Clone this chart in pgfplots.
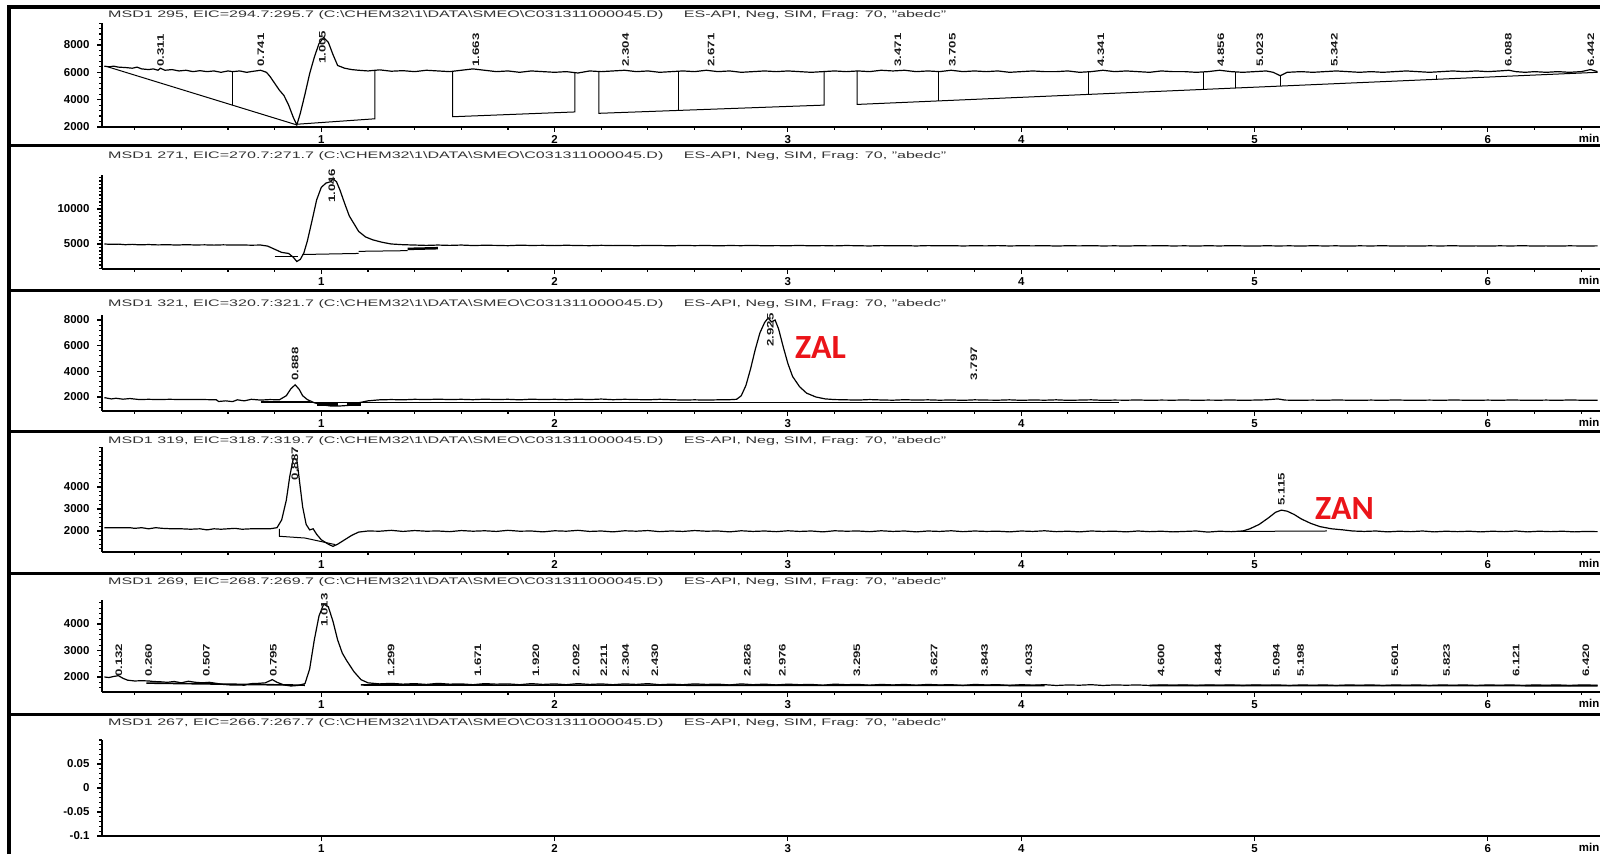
\documentclass[border=0pt]{standalone}
\usepackage{pgfplots}
\pgfplotsset{compat=1.18}
\usepackage{fontspec}
\usepackage{graphicx}
\setmainfont{Liberation Sans}
\newfontfamily\zfont{Carlito}
\definecolor{zred}{RGB}{235,20,25}
\newcommand\tkfont{\fontsize{11.5}{11.5}\selectfont\bfseries}
\newcommand\pkfont{\fontsize{9.5}{9.5}\selectfont\bfseries}
\newcommand\pk[3]{\node[rotate=90,anchor=west,inner sep=0,font=\pkfont,text=black!90] at (axis cs:#1,#2) {\scalebox{1.4}[1]{#3}};}
\newcommand\ttl[3]{\node[anchor=west,inner sep=0,text=black!80] at (108bp,#1) {\resizebox{838bp}{\height}{\fontsize{9.5}{9.5}\selectfont MSD1 #2, EIC=#3 (C:\textbackslash CHEM32\textbackslash 1\textbackslash DATA\textbackslash SMEO\textbackslash C031311000045.D)\quad\ ES-API, Neg, SIM, Frag: 70, "abedc"}};}
\pgfplotsset{
  chrom/.style={
    scale only axis, width=1498bp, anchor=south west,
    xmin=0.06, xmax=6.481,
    axis x line*=bottom, axis y line*=left,
    axis line style={line width=1.6bp,-},
    tick align=outside,
    major tick length=5bp, minor tick length=3bp,
    tick style={line width=1.1bp,black},
    xtick={1,2,3,4,5,6}, xticklabels={1,2,3,4,5,6},
    minor xtick={0.2,0.4,0.6,0.8,1.2,1.4,1.6,1.8,2.2,2.4,2.6,2.8,3.2,3.4,3.6,3.8,4.2,4.4,4.6,4.8,5.2,5.4,5.6,5.8,6.2,6.4},
    tick label style={font=\tkfont},
    yticklabel style={xshift=-4bp},
    scaled y ticks=false,
    clip=false,
  },
  sig/.style={black, line width=1.2bp, mark=none},
  base/.style={black, line width=1bp, mark=none},
}
\begin{document}
\begin{tikzpicture}[x=1bp,y=1bp]
\useasboundingbox (0,0) rectangle (1600,854);
% frame
\draw[line width=3.5bp] (9,0) -- (9,847) -- (1600,847);
\foreach \yy in {708,563,422,280,139}{\draw[line width=3bp] (9,\yy) -- (1600,\yy);}
% titles
\ttl{839bp}{295}{294.7:295.7}
\ttl{698bp}{271}{270.7:271.7}
\ttl{550bp}{321}{320.7:321.7}
\ttl{413bp}{319}{318.7:319.7}
\ttl{272bp}{269}{268.7:269.7}
\ttl{131bp}{267}{266.7:267.7}

% ---------------- Panel 1
\begin{axis}[chrom, at={(102bp,727bp)}, height=104bp,
  ymin=2000, ymax=9610, ytick={2000,4000,6000,8000}, yticklabels={2000,4000,6000,8000},
  minor ytick={2400,2800,3200,3600,4400,4800,5200,5600,6400,6800,7200,7600,8400,8800,9200,9600}]
\addplot[sig] coordinates {(0.07,6450)(0.09,6400)(0.11,6450)(0.13,6380)(0.16,6350)(0.19,6300)(0.21,6380)(0.23,6250)(0.26,6200)(0.28,6250)(0.30,6150)(0.31,6300)(0.33,6150)(0.36,6200)(0.39,6100)(0.42,6150)(0.45,6050)(0.48,6120)(0.51,6050)(0.54,6100)(0.57,6000)(0.60,6100)(0.62,6050)(0.65,6100)(0.68,6000)(0.71,6080)(0.74,6150)(0.765,6000)(0.78,5700)(0.80,5200)(0.82,4700)(0.84,4300)(0.86,3600)(0.88,2700)(0.895,2150)(0.91,3000)(0.93,4400)(0.95,5900)(0.97,7100)(0.99,8100)(1.01,8550)(1.03,8200)(1.05,7300)(1.07,6500)(1.10,6300)(1.13,6200)
(1.16,6150)(1.20,6100)(1.25,6180)(1.30,6080)(1.35,6120)(1.40,6050)(1.45,6150)(1.50,6100)(1.55,6050)(1.60,6150)(1.65,6250)(1.70,6150)(1.75,6050)(1.80,6100)(1.85,6000)(1.90,6100)(1.95,6050)(2.00,6000)(2.05,6050)(2.10,5950)(2.15,6100)(2.20,6050)(2.25,6100)(2.30,6150)(2.35,6050)(2.40,6100)(2.45,6000)(2.50,6050)(2.55,6100)(2.60,6050)(2.65,6150)(2.70,6050)(2.75,6100)(2.80,6000)(2.85,6050)(2.90,6100)(2.95,6050)(3.00,6100)(3.05,6050)(3.10,6000)(3.15,6050)(3.20,6100)(3.25,6050)(3.30,6100)(3.35,6050)(3.40,6150)(3.45,6100)(3.50,6150)(3.55,6050)(3.60,6100)(3.65,6050)(3.70,6150)(3.75,6050)(3.80,6100)(3.85,6050)(3.90,6100)(3.95,6000)(4.00,6050)(4.05,6100)(4.10,6050)(4.15,6050)(4.20,6100)(4.25,6000)(4.30,6050)(4.35,6150)(4.40,6050)(4.45,6100)(4.50,6050)(4.55,6000)(4.60,6100)(4.65,6050)(4.70,6050)(4.75,6000)(4.80,6050)(4.85,6150)(4.90,6050)(4.95,6000)(5.00,6050)(5.05,6100)(5.08,6000)(5.11,5750)(5.14,6000)(5.20,6050)(5.25,6000)(5.30,6050)(5.35,6100)(5.40,6050)(5.45,6000)(5.50,6050)(5.55,6000)(5.60,6050)(5.65,6100)(5.70,6050)(5.75,6000)(5.80,6050)(5.85,6100)(5.90,6050)(5.95,6100)(6.00,6050)(6.05,6100)(6.09,6150)(6.12,6050)(6.16,6000)(6.20,6050)(6.25,6000)(6.30,6050)(6.35,6000)(6.40,6050)(6.44,6200)(6.47,6050)};
\addplot[base] coordinates {(0.085,6400)(0.895,2150)};
\addplot[base] coordinates {(0.62,3590)(0.62,6070)};
\addplot[base] coordinates {(0.895,2200)(1.23,2600)(1.23,6150)};
\addplot[base] coordinates {(1.563,6080)(1.563,2750)(2.087,3100)(2.087,6000)};
\addplot[base] coordinates {(2.19,6080)(2.19,3000)(3.155,3600)(3.155,6050)};
\addplot[base] coordinates {(2.53,3210)(2.53,6080)};
\addplot[base] coordinates {(3.297,6100)(3.297,3650)(6.47,6000)};
\addplot[base] coordinates {(3.646,3908)(3.646,6080)};
\addplot[base] coordinates {(4.29,4385)(4.29,6050)};
\addplot[base] coordinates {(4.78,4748)(4.78,6030)};
\addplot[base] coordinates {(4.92,4852)(4.92,6000)};
\addplot[base] coordinates {(5.11,4993)(5.11,5700)};
\addplot[base] coordinates {(5.78,5489)(5.78,5800)};
\pk{0.311}{6400}{0.311}\pk{0.741}{6400}{0.741}\pk{1.005}{6600}{1.005}\pk{1.663}{6400}{1.663}
\pk{2.304}{6400}{2.304}\pk{2.671}{6400}{2.671}\pk{3.471}{6400}{3.471}\pk{3.705}{6400}{3.705}
\pk{4.341}{6400}{4.341}\pk{4.856}{6400}{4.856}\pk{5.023}{6400}{5.023}\pk{5.342}{6400}{5.342}
\pk{6.088}{6400}{6.088}\pk{6.442}{6400}{6.442}
\node[anchor=north west,inner sep=0,font=\tkfont,yshift=-7bp] at (rel axis cs:0.9858,0) {min};
\end{axis}

% ---------------- Panel 2
\begin{axis}[chrom, at={(102bp,585bp)}, height=94bp,
  ymin=1430, ymax=14860, ytick={5000,10000}, yticklabels={5000,10000},
  minor ytick={1500,2000,2500,3000,3500,4000,4500,5500,6000,6500,7000,7500,8000,8500,9000,9500,10500,11000,11500,12000,12500,13000,13500,14000,14500}]
\addplot[sig] coordinates {(0.07,5000)(0.10,4950)(0.13,4980)(0.16,4900)(0.19,4950)(0.22,4880)(0.26,4920)(0.30,4870)(0.34,4900)(0.38,4850)(0.42,4900)(0.46,4860)(0.50,4880)(0.54,4840)(0.58,4880)(0.62,4850)(0.66,4860)(0.70,4830)(0.74,4850)(0.77,4700)(0.80,4250)(0.83,3800)(0.86,3650)(0.88,3100)(0.895,2500)(0.91,2800)(0.925,3700)(0.94,5400)(0.96,8300)(0.98,11300)(1.00,13100)(1.02,13700)(1.04,13900)(1.05,14300)(1.065,13900)(1.08,12700)(1.10,10800)(1.12,9000)(1.14,7900)(1.16,6800)(1.19,6000)(1.22,5600)(1.26,5250)(1.30,5000)(1.35,4900)(1.40,4850)(1.45,4800)(1.50,4850)
(1.55,4800)(1.60,4850)(1.65,4780)(1.70,4820)(1.75,4800)(1.80,4760)(1.85,4830)(1.90,4790)(1.95,4810)(2.00,4770)(2.05,4820)(2.10,4780)(2.15,4760)(2.20,4810)(2.25,4770)(2.30,4800)(2.35,4750)(2.40,4800)(2.45,4780)(2.50,4740)(2.55,4800)(2.60,4760)(2.65,4790)(2.70,4740)(2.75,4780)(2.80,4760)(2.85,4800)(2.90,4740)(2.95,4770)(3.00,4750)(3.05,4790)(3.10,4740)(3.15,4770)(3.20,4730)(3.25,4780)(3.30,4750)(3.35,4720)(3.40,4770)(3.45,4740)(3.50,4760)(3.55,4720)(3.60,4770)(3.65,4740)(3.70,4760)(3.75,4720)(3.80,4750)(3.85,4730)(3.90,4770)(3.95,4720)(4.00,4750)(4.05,4730)(4.10,4760)(4.15,4710)(4.20,4750)(4.25,4730)(4.30,4760)(4.35,4720)(4.40,4740)(4.45,4710)(4.50,4750)(4.55,4730)(4.60,4760)(4.65,4720)(4.70,4740)(4.75,4710)(4.80,4750)(4.85,4720)(4.90,4760)(4.95,4730)(5.00,4700)(5.05,4750)(5.10,4720)(5.15,4740)(5.20,4710)(5.25,4750)(5.30,4720)(5.35,4740)(5.40,4700)(5.45,4740)(5.50,4720)(5.55,4750)(5.60,4710)(5.65,4730)(5.70,4700)(5.75,4740)(5.80,4720)(5.85,4750)(5.90,4710)(5.95,4730)(6.00,4700)(6.05,4740)(6.10,4720)(6.15,4750)(6.20,4710)(6.25,4730)(6.30,4700)(6.35,4740)(6.40,4720)(6.47,4730)};
\addplot[base] coordinates {(0.80,3150)(0.90,3150)};
\addplot[base] coordinates {(0.92,3500)(1.16,3650)};
\addplot[base] coordinates {(1.16,3950)(1.37,4050)};
\addplot[base, line width=2.5bp] coordinates {(1.37,4300)(1.50,4400)};
\pk{1.045}{10900}{1.046}
\node[anchor=north west,inner sep=0,font=\tkfont,yshift=-7bp] at (rel axis cs:0.9858,0) {min};
\end{axis}

% ---------------- Panel 3
\begin{axis}[chrom, at={(102bp,443bp)}, height=96bp,
  ymin=910, ymax=8390, ytick={2000,4000,6000,8000}, yticklabels={2000,4000,6000,8000},
  minor ytick={1200,1600,2400,2800,3200,3600,4400,4800,5200,5600,6400,6800,7200,7600,8400}]
\addplot[sig] coordinates {(0.07,1950)(0.10,1850)(0.12,1900)(0.15,1830)(0.18,1880)(0.22,1800)(0.26,1820)(0.30,1800)(0.35,1820)(0.40,1800)(0.45,1800)(0.50,1800)(0.55,1780)(0.56,1650)(0.59,1700)(0.62,1640)(0.64,1780)(0.67,1700)(0.70,1820)(0.74,1760)(0.78,1800)(0.82,1780)(0.85,2100)(0.87,2650)(0.888,2950)(0.905,2600)(0.92,2100)(0.94,1800)(0.97,1550)(1.00,1400)(1.04,1300)(1.08,1300)(1.12,1350)(1.16,1550)(1.20,1700)(1.25,1780)(1.30,1800)(1.35,1780)(1.40,1820)(1.45,1800)(1.50,1830)(1.55,1800)(1.60,1820)(1.65,1790)(1.70,1830)(1.75,1800)(1.80,1820)(1.85,1780)(1.90,1830)(1.95,1800)(2.00,1820)(2.05,1790)(2.10,1830)(2.15,1800)(2.20,1840)(2.25,1790)(2.30,1820)(2.35,1800)(2.40,1780)(2.45,1820)(2.50,1790)(2.55,1760)(2.60,1780)(2.65,1760)(2.70,1780)(2.75,1790)(2.78,1820)(2.80,2100)(2.82,2900)(2.84,4200)(2.86,5700)(2.88,7000)(2.90,7800)(2.915,8150)(2.93,7850)(2.945,8000)(2.96,7300)(2.98,5900)(3.00,4600)(3.02,3600)(3.05,2800)(3.08,2300)(3.12,2000)(3.16,1850)(3.20,1800)(3.25,1780)(3.30,1760)(3.35,1800)(3.40,1770)(3.45,1750)(3.50,1790)(3.55,1760)(3.60,1780)(3.65,1750)(3.70,1770)(3.75,1740)(3.80,1780)(3.85,1760)(3.90,1750)(3.95,1780)(4.00,1740)(4.05,1770)(4.10,1750)(4.15,1780)(4.20,1740)(4.25,1760)(4.30,1780)(4.35,1740)(4.40,1760)(4.45,1750)(4.50,1770)(4.55,1740)(4.60,1760)(4.65,1750)(4.70,1770)(4.75,1740)(4.80,1760)(4.85,1750)(4.90,1770)(4.95,1740)(5.00,1760)(5.05,1780)(5.10,1850)(5.13,1760)(5.18,1740)(5.25,1760)(5.30,1740)(5.35,1770)(5.40,1750)(5.45,1740)(5.50,1760)(5.55,1740)(5.60,1770)(5.65,1750)(5.70,1740)(5.75,1760)(5.80,1740)(5.85,1770)(5.90,1750)(5.95,1740)(6.00,1760)(6.05,1740)(6.10,1770)(6.15,1750)(6.20,1740)(6.25,1760)(6.30,1740)(6.35,1770)(6.40,1750)(6.47,1750)};
\addplot[base] coordinates {(0.74,1620)(0.95,1620)};
\addplot[base] coordinates {(0.74,1560)(4.42,1560)};
\addplot[base, line width=2.5bp] coordinates {(0.98,1400)(1.07,1400)};
\addplot[base, line width=2.5bp] coordinates {(1.11,1420)(1.17,1420)};
\pk{0.888}{3250}{0.888}\pk{2.925}{5900}{2.925}\pk{3.797}{3300}{3.797}
\node[anchor=north west,inner sep=0,font=\tkfont,yshift=-7bp] at (rel axis cs:0.9858,0) {min};
\end{axis}

% ---------------- Panel 4
\begin{axis}[chrom, at={(102bp,302bp)}, height=105bp,
  ymin=1045, ymax=5820, ytick={2000,3000,4000}, yticklabels={2000,3000,4000},
  minor ytick={1200,1400,1600,1800,2200,2400,2600,2800,3200,3400,3600,3800,4200,4400,4600,4800,5000,5200,5400,5600,5800}]
\addplot[sig] coordinates {(0.07,2150)(0.10,2150)(0.14,2150)(0.18,2150)(0.20,2120)(0.23,2150)(0.26,2100)(0.29,2150)(0.32,2120)(0.36,2100)(0.40,2100)(0.44,2080)(0.48,2100)(0.51,2050)(0.54,2100)(0.57,2080)(0.60,2100)(0.63,2120)(0.66,2080)(0.70,2100)(0.74,2100)(0.78,2100)(0.81,2150)(0.83,2500)(0.85,3400)(0.865,4500)(0.88,5300)(0.895,5250)(0.905,4400)(0.92,3100)(0.935,2300)(0.95,2050)(0.965,2100)(0.98,1850)(1.00,1600)(1.03,1400)(1.05,1300)(1.07,1400)(1.10,1600)(1.13,1800)(1.16,1950)(1.20,2000)(1.25,1990)(1.30,2030)(1.35,1980)(1.40,2020)(1.45,1990)(1.50,2000)(1.55,1970)(1.60,2020)(1.65,1990)(1.70,2010)(1.75,1980)(1.80,2030)(1.85,1990)(1.90,2000)(1.95,1960)(2.00,2010)(2.05,1990)(2.10,2030)(2.15,1980)(2.20,2000)(2.25,1960)(2.30,2010)(2.35,1990)(2.40,2020)(2.45,1970)(2.50,2000)(2.55,1980)(2.60,2020)(2.65,1990)(2.70,2000)(2.75,1960)(2.80,2010)(2.85,1980)(2.90,2000)(2.95,1970)(3.00,2010)(3.05,1980)(3.10,2000)(3.15,1960)(3.20,2010)(3.25,1990)(3.30,2000)(3.35,1970)(3.40,2010)(3.45,1980)(3.50,2000)(3.55,1960)(3.60,2000)(3.65,1980)(3.70,2010)(3.75,1970)(3.80,2000)(3.85,1980)(3.90,1990)(3.95,1960)(4.00,2000)(4.05,1980)(4.10,2010)(4.15,1970)(4.20,1990)(4.25,1960)(4.30,2000)(4.35,1980)(4.40,1990)(4.45,1960)(4.50,2000)(4.55,1970)(4.60,1990)(4.65,1960)(4.70,1980)(4.75,2000)(4.80,1950)(4.85,1990)(4.90,1970)(4.95,2000)(4.98,2100)(5.02,2300)(5.06,2600)(5.09,2850)(5.115,2950)(5.14,2900)(5.17,2750)(5.20,2550)(5.24,2350)(5.28,2200)(5.33,2100)(5.38,2050)(5.42,2000)(5.47,1980)(5.52,2000)(5.57,1960)(5.62,1990)(5.67,1970)(5.72,2000)(5.77,1960)(5.82,1990)(5.87,1970)(5.92,1990)(5.97,1960)(6.02,1990)(6.07,1970)(6.12,2000)(6.17,1960)(6.22,1990)(6.27,1970)(6.32,1990)(6.37,1960)(6.42,1980)(6.47,1970)};
\addplot[base] coordinates {(0.82,2100)(0.82,1760)(0.93,1680)(1.06,1380)};
\addplot[base] coordinates {(4.93,1980)(5.31,2000)};
\pk{0.887}{4300}{0.887}\pk{5.115}{3150}{5.115}
\node[anchor=north west,inner sep=0,font=\tkfont,yshift=-7bp] at (rel axis cs:0.9858,0) {min};
\end{axis}

% ---------------- Panel 5
\begin{axis}[chrom, at={(102bp,162bp)}, height=92bp,
  ymin=1434, ymax=4906, ytick={2000,3000,4000}, yticklabels={2000,3000,4000},
  minor ytick={1600,1800,2200,2400,2600,2800,3200,3400,3600,3800,4200,4400,4600,4800}]
\addplot[sig] coordinates {(0.07,2000)(0.09,1980)(0.11,2020)(0.13,2050)(0.15,1950)(0.17,1880)(0.20,1850)(0.23,1860)(0.26,1850)(0.28,1830)(0.31,1820)(0.34,1800)(0.37,1830)(0.40,1780)(0.43,1840)(0.46,1800)(0.49,1780)(0.52,1800)(0.55,1760)(0.58,1720)(0.61,1700)(0.64,1700)(0.67,1690)(0.70,1750)(0.73,1760)(0.76,1780)(0.79,1900)(0.81,1800)(0.84,1700)(0.87,1660)(0.90,1680)(0.93,1750)(0.95,2300)(0.97,3400)(0.99,4300)(1.01,4750)(1.03,4650)(1.05,4100)(1.07,3400)(1.09,2900)(1.11,2600)(1.14,2200)(1.17,1900)(1.20,1780)(1.25,1740)(1.30,1760)(1.35,1730)(1.40,1750)(1.45,1720)(1.50,1760)(1.55,1730)(1.60,1740)(1.65,1710)(1.70,1750)(1.75,1730)(1.80,1740)(1.85,1710)(1.90,1750)(1.95,1720)(2.00,1740)(2.05,1710)(2.10,1750)(2.15,1720)(2.20,1740)(2.25,1710)(2.30,1740)(2.35,1720)(2.40,1750)(2.45,1710)(2.50,1730)(2.55,1710)(2.60,1740)(2.65,1720)(2.70,1730)(2.75,1700)(2.80,1740)(2.85,1710)(2.90,1730)(2.95,1700)(3.00,1730)(3.05,1710)(3.10,1720)(3.15,1690)(3.20,1730)(3.25,1710)(3.30,1720)(3.35,1690)(3.40,1720)(3.45,1700)(3.50,1720)(3.55,1690)(3.60,1720)(3.65,1700)(3.70,1710)(3.75,1680)(3.80,1720)(3.85,1700)(3.90,1710)(3.95,1680)(4.00,1710)(4.05,1690)(4.10,1710)(4.15,1680)(4.20,1700)(4.25,1690)(4.30,1710)(4.35,1680)(4.40,1700)(4.45,1690)(4.50,1700)(4.55,1680)(4.60,1700)(4.65,1690)(4.70,1700)(4.75,1680)(4.80,1700)(4.85,1690)(4.90,1700)(4.95,1680)(5.00,1700)(5.05,1690)(5.10,1700)(5.15,1680)(5.20,1700)(5.25,1690)(5.30,1700)(5.35,1680)(5.40,1700)(5.45,1690)(5.50,1700)(5.55,1680)(5.60,1700)(5.65,1690)(5.70,1700)(5.75,1680)(5.80,1700)(5.85,1690)(5.90,1700)(5.95,1680)(6.00,1700)(6.05,1690)(6.10,1700)(6.15,1680)(6.20,1700)(6.25,1690)(6.30,1700)(6.35,1680)(6.40,1700)(6.47,1690)};
\addplot[base, line width=1.6bp] coordinates {(0.25,1770)(0.93,1690)};
\addplot[base, line width=1.6bp] coordinates {(1.17,1700)(4.10,1680)};
\addplot[base, line width=1.6bp] coordinates {(4.55,1680)(6.47,1670)};
\pk{0.132}{2000}{0.132}\pk{0.260}{2000}{0.260}\pk{0.507}{2000}{0.507}\pk{0.795}{2000}{0.795}
\pk{1.013}{3900}{1.013}\pk{1.299}{2000}{1.299}\pk{1.671}{2000}{1.671}\pk{1.920}{2000}{1.920}
\pk{2.092}{2000}{2.092}\pk{2.211}{2000}{2.211}\pk{2.304}{2000}{2.304}\pk{2.430}{2000}{2.430}
\pk{2.826}{2000}{2.826}\pk{2.976}{2000}{2.976}\pk{3.295}{2000}{3.295}\pk{3.627}{2000}{3.627}
\pk{3.843}{2000}{3.843}\pk{4.033}{2000}{4.033}\pk{4.600}{2000}{4.600}\pk{4.844}{2000}{4.844}
\pk{5.094}{2000}{5.094}\pk{5.198}{2000}{5.198}\pk{5.601}{2000}{5.601}\pk{5.823}{2000}{5.823}
\pk{6.121}{2000}{6.121}\pk{6.420}{2000}{6.420}
\node[anchor=north west,inner sep=0,font=\tkfont,yshift=-7bp] at (rel axis cs:0.9858,0) {min};
\end{axis}

% ---------------- Panel 6
\begin{axis}[chrom, at={(102bp,18bp)}, height=96bp,
  ymin=-0.1, ymax=0.1, ytick={-0.1,-0.05,0,0.05}, yticklabels={-0.1,-0.05,0,0.05},
  minor xtick={},
  minor ytick={-0.09,-0.08,-0.07,-0.06,-0.04,-0.03,-0.02,-0.01,0.01,0.02,0.03,0.04,0.06,0.07,0.08,0.09,0.1}]
\addplot[draw=none, mark=none] coordinates {(1,0)(6,0)};
\node[anchor=north west,inner sep=0,font=\tkfont,yshift=-7bp] at (rel axis cs:0.9858,0) {min};
\end{axis}

% annotations
\node[anchor=base west,inner sep=0,text=zred,font=\zfont\bfseries\fontsize{34}{34}\selectfont] at (795,495) {ZAL};
\node[anchor=base west,inner sep=0,text=zred,font=\zfont\bfseries\fontsize{34}{34}\selectfont] at (1315,334) {ZAN};
\end{tikzpicture}
\end{document}
